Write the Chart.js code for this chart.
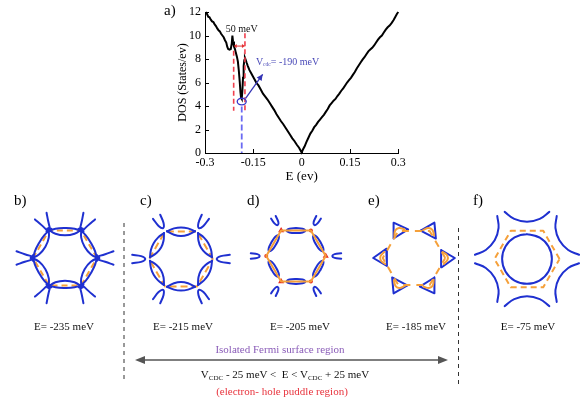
<!DOCTYPE html>
<html><head><meta charset="utf-8">
<script src="https://cdn.jsdelivr.net/npm/chart.js@4.4.1/dist/chart.umd.min.js"></script>
<style>
html,body{margin:0;padding:0;background:#fff;}
#root{position:relative;width:581px;height:399px;overflow:hidden;font-family:'Liberation Serif','Times New Roman',serif;}
canvas{position:absolute;}
.t{position:absolute;transform:translate(-50%,-50%);white-space:nowrap;font-size:11px;color:#111;line-height:1;}
.pl{position:absolute;font-size:15px;line-height:1;color:#000;}
sub{font-size:7px;vertical-align:-2px;line-height:0;}
svg{position:absolute;left:0;top:0;}
</style></head><body>
<div id="root">
  <canvas id="dos" width="270" height="190" style="left:140px;top:0px"></canvas>
  <canvas id="pb" width="118" height="102" style="left:6px;top:207px"></canvas>
  <canvas id="pc" width="118" height="102" style="left:122px;top:208px"></canvas>
  <canvas id="pd" width="118" height="102" style="left:237px;top:205px"></canvas>
  <canvas id="pe" width="118" height="102" style="left:355px;top:207px"></canvas>
  <canvas id="pf" width="118" height="102" style="left:468px;top:208px"></canvas>
  <svg width="581" height="399">
    <line x1="124" y1="223" x2="124" y2="383" stroke="#333" stroke-width="1" stroke-dasharray="4 4"/>
    <line x1="458.5" y1="228" x2="458.5" y2="387" stroke="#333" stroke-width="1" stroke-dasharray="4 4"/>
    <line x1="142" y1="360" x2="441" y2="360" stroke="#555" stroke-width="1.5"/>
    <polygon points="135,360 145,356 145,364" fill="#555"/>
    <polygon points="448,360 438,356 438,364" fill="#555"/>
  </svg>
  <div class="pl" style="left:164px;top:3px">a)</div>
  <div id="labels"></div>
  <div class="t" style="left:280px;top:349px;color:#8a5cb8">Isolated Fermi surface region</div>
  <div class="t" style="left:285px;top:374px">V<sub>CDC</sub> - 25 meV &lt;&nbsp; E &lt; V<sub>CDC</sub> + 25 meV</div>
  <div class="t" style="left:282px;top:391px;color:#e8323c">(electron- hole puddle region)</div>
</div>
<script>
// ---------------- data: panel a) DOS ----------------
const DOS_ENERGY = [-0.298,-0.294,-0.290,-0.286,-0.282,-0.278,-0.274,-0.270,-0.266,-0.262,
 -0.258,-0.254,-0.250,-0.246,-0.242,-0.238,-0.234,-0.231,-0.228,-0.224,
 -0.220,-0.217,-0.215,-0.213,-0.210,-0.207,-0.204,-0.201,-0.198,-0.195,
 -0.192,-0.190,-0.188,-0.186,-0.184,-0.182,-0.180,-0.178,-0.176,-0.174,
 -0.171,-0.167,-0.162,-0.157,-0.152,-0.146,-0.140,-0.134,-0.127,-0.120,
 -0.113,-0.106,-0.099,-0.092,-0.085,-0.078,-0.071,-0.064,-0.057,-0.050,
 -0.043,-0.036,-0.029,-0.022,-0.015,-0.008,-0.003,0.000,
 0.004,0.009,0.015,0.021,0.027,0.033,0.039,0.045,0.051,0.057,
 0.063,0.069,0.075,0.081,0.087,0.093,0.099,0.105,0.111,0.117,
 0.123,0.129,0.135,0.141,0.147,0.153,0.159,0.165,0.171,0.177,
 0.183,0.189,0.195,0.201,0.207,0.213,0.219,0.225,0.231,0.237,
 0.243,0.249,0.255,0.261,0.267,0.273,0.279,0.285,0.291,0.296,0.300];
const DOS_VALUES = [12.0,11.85,11.6,11.55,11.35,11.2,11.15,10.95,10.8,10.6,
 10.45,10.35,10.15,10.0,9.85,9.6,9.4,9.05,8.85,8.8,
 8.85,9.3,10.0,9.5,9.05,8.85,8.5,8.2,7.8,7.0,
 6.0,5.2,4.7,4.6,5.3,6.4,7.4,7.9,8.1,7.95,
 7.7,7.4,7.05,6.8,6.55,6.25,5.95,5.75,5.4,5.05,
 4.8,4.55,4.25,3.95,3.65,3.3,3.0,2.7,2.45,2.15,
 1.85,1.55,1.25,1.0,0.7,0.45,0.2,0.05,
 0.3,0.55,0.95,1.3,1.65,1.9,2.2,2.4,2.65,2.85,
 3.05,3.25,3.5,3.75,4.05,4.25,4.45,4.6,4.85,5.05,
 5.3,5.5,5.75,6.0,6.2,6.4,6.65,6.9,7.2,7.45,
 7.7,7.95,8.15,8.4,8.65,8.8,8.95,9.15,9.4,9.65,
 9.85,10.0,10.25,10.5,10.7,10.85,11.05,11.3,11.6,11.85,12.0];
const X_TICKS = [-0.3,-0.15,0,0.15,0.3];
const X_TICK_LABELS = ['-0.3','-0.15','0','0.15','0.3'];
const Y_TICKS = [0,2,4,6,8,10,12];
const Y_TICK_LABELS = ['0','2','4','6','8','10','12'];

// annotation anchors (data coordinates of panel a)
const RED_LINES = [{x:-0.211, top:8.7, bottom:3.6},{x:-0.176, top:10.2, bottom:3.6}];
const RED_ARROW = {x0:-0.211, x1:-0.176, y:9.1};
const LABEL_50 = {x:-0.186, y:10.55, text:'50 meV'};
const BLUE_LINE = {x:-0.186, top:3.95, bottom:0};
const BLUE_RING = {x:-0.186, y:4.38};
const BLUE_ARROW = {x0:-0.174, y0:4.65, x1:-0.121, y1:6.7};
const VCDC_LABEL = {x:-0.142, y:7.75, main:'V', sub:'cdc', rest:'= -190 meV'};

// ---------------- data: panels b)-f) (units: hexagon radius) ----------------
const PANEL_LETTERS = ['b)','c)','d)','e)','f)'];
const PANEL_ENERGIES = ['E= -235 meV','E= -215 meV','E= -205 meV','E= -185 meV','E= -75 meV'];
const SIX_FOLD = [0,60,120,180,240,300];

const HEX = [[1,0],[0.5,0.866],[-0.5,0.866],[-1,0],[-0.5,-0.866],[0.5,-0.866],[1,0]];
const B_LENS_OUTER = [[-0.58,0.83],[-0.3,0.92],[0,0.94],[0.3,0.92],[0.58,0.83]];
const B_LENS_INNER = [[-0.56,0.92],[-0.3,0.76],[0,0.71],[0.3,0.76],[0.56,0.92]];
const B_SPOKE_UP = [[1.02,0.05],[1.26,0.12],[1.52,0.21]];
const B_SPOKE_DOWN = [[1.02,-0.05],[1.26,-0.12],[1.52,-0.21]];

const C_LENS_UP = [[-0.44,0.87],[-0.22,0.96],[0,0.99],[0.22,0.96],[0.44,0.87]];
const C_LENS_DOWN = [[-0.44,0.87],[-0.22,0.76],[0,0.72],[0.22,0.76],[0.44,0.87]];
const C_POCKET = [[1.53,0.13],[1.25,0.09],[1.12,0],[1.25,-0.09],[1.53,-0.13]];

const D_ELLIPSE = [[0,0.95],[0.22,0.93],[0.31,0.866],[0.22,0.80],[0,0.78],[-0.22,0.80],[-0.31,0.866],[-0.22,0.93],[0,0.95]];
const D_POCKET = [[1.52,0.09],[1.30,0.065],[1.22,0],[1.30,-0.065],[1.52,-0.09]];
const D_RED_LARGE = [[1,0],[-0.5,0.866],[-0.5,-0.866]];
const D_RED_SMALL = [[0.5,0.866],[-1,0],[0.5,-0.866]];

const E_HEX = [[0.98,0],[0.49,0.849],[-0.49,0.849],[-0.98,0],[-0.49,-0.849],[0.49,-0.849],[0.98,0]];
const E_TRIANGLE = [[0.85,0.25],[1.28,0],[0.87,-0.29],[0.85,0.25]];
const E_INNER = [[0.90,0.19],[1.04,0.08],[1.05,-0.06],[0.93,-0.19]];

const F_HEX = [[1.02,0],[0.51,0.883],[-0.51,0.883],[-1.02,0],[-0.51,-0.883],[0.51,-0.883],[1.02,0]];
const F_CIRCLE = [[0,0.78],[0.39,0.675],[0.675,0.39],[0.78,0],[0.675,-0.39],[0.39,-0.675],[0,-0.78],
  [-0.39,-0.675],[-0.675,-0.39],[-0.78,0],[-0.675,0.39],[-0.39,0.675],[0,0.78],[0.39,0.675]];
const F_ARC = [[-0.70,1.48],[-0.40,1.26],[0,1.17],[0.40,1.26],[0.70,1.48]];

// ---------------- styles ----------------
const SERIF = "'Liberation Serif','Times New Roman',serif";
const BLUE = '#1f30d0', ORANGE = '#f5a03a', RED = '#e62a1e';

// labels under panels
(function(){
  const cx = [64,183,300,416,528];
  const lx = [14,140,247,368,473];
  const root = document.getElementById('labels');
  PANEL_ENERGIES.forEach((txt,i)=>{
    const d = document.createElement('div'); d.className='t';
    d.style.left = cx[i]+'px'; d.style.top = '326px'; d.textContent = txt; root.appendChild(d);
    const p = document.createElement('div'); p.className='pl';
    p.style.left = lx[i]+'px'; p.style.top = '193px'; p.textContent = PANEL_LETTERS[i]; root.appendChild(p);
  });
})();

// ---------------- panel a) ----------------
function arrowHead(ctx, x0, y0, x1, y1, len, half){
  const a = Math.atan2(y1-y0, x1-x0);
  ctx.beginPath();
  ctx.moveTo(x1, y1);
  ctx.lineTo(x1 - len*Math.cos(a) + half*Math.sin(a), y1 - len*Math.sin(a) - half*Math.cos(a));
  ctx.lineTo(x1 - len*Math.cos(a) - half*Math.sin(a), y1 - len*Math.sin(a) + half*Math.cos(a));
  ctx.closePath(); ctx.fill();
}
const decorations = {
  id:'decorations',
  afterDraw(chart){
    const {ctx, chartArea:a, scales:{x, y}} = chart;
    ctx.save();
    ctx.strokeStyle='#000'; ctx.lineWidth=1;
    X_TICKS.forEach(v=>{ const p=Math.round(x.getPixelForValue(v))+0.5; ctx.beginPath(); ctx.moveTo(p,a.bottom); ctx.lineTo(p,a.bottom-4); ctx.stroke(); });
    Y_TICKS.forEach(v=>{ const p=Math.round(y.getPixelForValue(v))+0.5; ctx.beginPath(); ctx.moveTo(a.left,p); ctx.lineTo(a.left+4,p); ctx.stroke(); });
    ctx.strokeStyle='#f0404e'; ctx.lineWidth=1.6; ctx.setLineDash([5,3]);
    RED_LINES.forEach(l=>{ const px=x.getPixelForValue(l.x); ctx.beginPath(); ctx.moveTo(px,y.getPixelForValue(l.top)); ctx.lineTo(px,y.getPixelForValue(l.bottom)); ctx.stroke(); });
    ctx.strokeStyle='#6a6af2'; ctx.lineWidth=1.8; ctx.setLineDash([6,3]);
    { const px=x.getPixelForValue(BLUE_LINE.x); ctx.beginPath(); ctx.moveTo(px,y.getPixelForValue(BLUE_LINE.top)); ctx.lineTo(px,y.getPixelForValue(BLUE_LINE.bottom)); ctx.stroke(); }
    ctx.setLineDash([]);
    { const x0=x.getPixelForValue(RED_ARROW.x0), x1=x.getPixelForValue(RED_ARROW.x1), py=y.getPixelForValue(RED_ARROW.y);
      ctx.strokeStyle='#e03030'; ctx.fillStyle='#e03030'; ctx.lineWidth=1;
      ctx.beginPath(); ctx.moveTo(x0+2,py); ctx.lineTo(x1-2,py); ctx.stroke();
      arrowHead(ctx,x1,py,x0,py,3,2); arrowHead(ctx,x0,py,x1,py,3,2); }
    ctx.fillStyle='#111'; ctx.font='10px '+SERIF; ctx.textAlign='center'; ctx.textBaseline='middle';
    ctx.fillText(LABEL_50.text, x.getPixelForValue(LABEL_50.x), y.getPixelForValue(LABEL_50.y));
    ctx.strokeStyle='#3535c8'; ctx.lineWidth=1.3;
    ctx.beginPath(); ctx.ellipse(x.getPixelForValue(BLUE_RING.x), y.getPixelForValue(BLUE_RING.y), 4.5, 3.3, 0, 0, Math.PI*2); ctx.stroke();
    { const x0=x.getPixelForValue(BLUE_ARROW.x0), y0=y.getPixelForValue(BLUE_ARROW.y0), x1=x.getPixelForValue(BLUE_ARROW.x1), y1=y.getPixelForValue(BLUE_ARROW.y1);
      ctx.strokeStyle='#3535b5'; ctx.fillStyle='#3535b5'; ctx.lineWidth=1.3;
      ctx.beginPath(); ctx.moveTo(x0,y0); ctx.lineTo(x1,y1); ctx.stroke(); arrowHead(ctx,x0,y0,x1,y1,6,3); }
    { let px=x.getPixelForValue(VCDC_LABEL.x); const py=y.getPixelForValue(VCDC_LABEL.y);
      ctx.fillStyle='#4a4ab8'; ctx.textAlign='left'; ctx.textBaseline='middle';
      ctx.font='10px '+SERIF; ctx.fillText(VCDC_LABEL.main, px, py); px += ctx.measureText(VCDC_LABEL.main).width;
      ctx.font='5.5px '+SERIF; ctx.fillText(VCDC_LABEL.sub, px, py+3); px += ctx.measureText(VCDC_LABEL.sub).width;
      ctx.font='10px '+SERIF; ctx.fillText(VCDC_LABEL.rest, px, py); }
    ctx.restore();
  }
};

new Chart(document.getElementById('dos'), {
  type:'scatter',
  data:{datasets:[{
    data: DOS_ENERGY.map((e,i)=>({x:e, y:DOS_VALUES[i]})).filter(p=>p.y!==undefined),
    showLine:true, borderColor:'#000', borderWidth:2, pointRadius:0, tension:0, clip:false
  }]},
  options:{
    responsive:false, animation:false, devicePixelRatio:1, events:[],
    layout:{padding:{top:12,right:11.7,left:0,bottom:0}},
    plugins:{legend:{display:false}, tooltip:{enabled:false}},
    scales:{
      x:{type:'linear', min:-0.3, max:0.3,
        afterBuildTicks:s=>{ s.ticks = X_TICKS.map(v=>({value:v})); },
        afterFit:s=>{ s.height = 37; },
        ticks:{callback:(v,i)=>X_TICK_LABELS[i], color:'#000', font:{family:SERIF,size:12}, padding:3, maxRotation:0, autoSkip:false},
        grid:{display:false, drawTicks:false},
        border:{display:true, color:'#000', width:1},
        title:{display:true, text:'E (ev)', color:'#000', font:{family:SERIF,size:13}, padding:{top:0,bottom:6}}
      },
      y:{type:'linear', min:0, max:12,
        afterBuildTicks:s=>{ s.ticks = Y_TICKS.map(v=>({value:v})); },
        afterFit:s=>{ s.width = 65; },
        ticks:{callback:(v,i)=>Y_TICK_LABELS[i], color:'#000', font:{family:SERIF,size:12}, padding:4},
        grid:{display:false, drawTicks:false},
        border:{display:true, color:'#000', width:1},
        title:{display:true, text:'DOS (States/ev)', color:'#000', font:{family:SERIF,size:12}, padding:{top:36,bottom:0}}
      }
    }
  },
  plugins:[decorations]
});

// ---------------- panels b)-f) ----------------
function toPts(arr){ return arr.map(([x,y])=>({x, y})); }
function rotated(arr, deg){
  const a = deg*Math.PI/180, c = Math.cos(a), s = Math.sin(a);
  return arr.map(([x,y])=>({x: x*c - y*s, y: x*s + y*c}));
}
function makePanel(id, layers){
  const datasets = [];
  layers.forEach(L=>{
    const copies = L.sym ? SIX_FOLD.map(a=>rotated(L.shape, a)) : [toPts(L.shape)];
    copies.forEach(d=>{
      if (L.marker) {
        datasets.push({data:d, showLine:false, pointRadius:L.radius, pointStyle:L.marker,
          backgroundColor:L.color, borderColor:L.color, borderWidth:0, clip:false});
      } else {
        datasets.push({data:d, showLine:true, borderColor:L.color, borderWidth:L.width||2,
          borderDash:L.dash||[], tension:L.tension||0, pointRadius:0, fill:false, clip:false,
          borderCapStyle:L.dash?'butt':'round', borderJoinStyle:'round'});
      }
    });
  });
  new Chart(document.getElementById(id), {
    type:'scatter', data:{datasets},
    options:{responsive:false, animation:false, devicePixelRatio:1, events:[],
      layout:{padding:0},
      plugins:{legend:{display:false}, tooltip:{enabled:false}},
      scales:{x:{type:'linear', min:-1.85, max:1.85, display:false},
              y:{type:'linear', min:-1.6, max:1.6, display:false}}}
  });
}

makePanel('pb', [
  {shape:B_LENS_OUTER, sym:true, color:BLUE, width:2, tension:0.4},
  {shape:B_LENS_INNER, sym:true, color:BLUE, width:2, tension:0.4},
  {shape:B_SPOKE_UP, sym:true, color:BLUE, width:2, tension:0.4},
  {shape:B_SPOKE_DOWN, sym:true, color:BLUE, width:2, tension:0.4},
  {shape:HEX, sym:false, color:ORANGE, width:2, dash:[6,4]}
]);
makePanel('pc', [
  {shape:C_LENS_UP, sym:true, color:BLUE, width:2, tension:0.4},
  {shape:C_LENS_DOWN, sym:true, color:BLUE, width:2, tension:0.4},
  {shape:C_POCKET, sym:true, color:BLUE, width:2, tension:0.4},
  {shape:HEX, sym:false, color:ORANGE, width:2, dash:[7,4]}
]);
makePanel('pd', [
  {shape:HEX, sym:false, color:ORANGE, width:2},
  {shape:D_ELLIPSE, sym:true, color:BLUE, width:2, tension:0.4},
  {shape:D_POCKET, sym:true, color:BLUE, width:2, tension:0.4},
  {shape:D_RED_LARGE, sym:false, color:RED, marker:'triangle', radius:3.5},
  {shape:D_RED_SMALL, sym:false, color:RED, marker:'circle', radius:2}
]);
makePanel('pe', [
  {shape:E_HEX, sym:false, color:ORANGE, width:2, dash:[7,6]},
  {shape:E_INNER, sym:true, color:ORANGE, width:2, tension:0.4},
  {shape:E_TRIANGLE, sym:true, color:BLUE, width:2}
]);
makePanel('pf', [
  {shape:F_HEX, sym:false, color:ORANGE, width:2, dash:[6,4]},
  {shape:F_CIRCLE, sym:false, color:BLUE, width:2, tension:0.4},
  {shape:F_ARC, sym:true, color:BLUE, width:2, tension:0.4}
]);
</script>
</body></html>
